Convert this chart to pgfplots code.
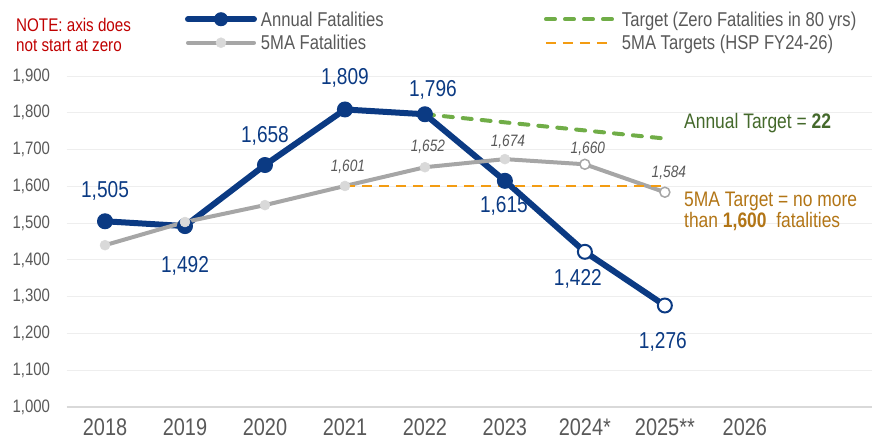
\documentclass[border=0pt]{standalone}
\usepackage{fontspec}
\setmainfont{Liberation Sans}[FakeStretch=0.83]
\usepackage{pgfplots}
\pgfplotsset{compat=1.18}
\usepackage{pgfplotstable}
\definecolor{navy}{HTML}{0B3A83}
\definecolor{greyline}{HTML}{A6A6A6}
\definecolor{markgrey}{HTML}{D9D9D9}
\definecolor{tgreen}{HTML}{70AD47}
\definecolor{torange}{HTML}{F39C12}
\definecolor{textgrey}{HTML}{595959}
\definecolor{notered}{HTML}{C00000}
\definecolor{anngreen}{HTML}{44692B}
\definecolor{annbrown}{HTML}{B27516}
\definecolor{gridc}{HTML}{EEEEEE}
\definecolor{axisc}{HTML}{D9D9D9}

\pgfplotstableread{
x y
0 1505
1 1492
2 1658
3 1809
4 1796
5 1615
6 1422
7 1276
}\annualtab

\pgfplotstableread{
x y
0 1440
1 1503
2 1549
3 1601
4 1652
5 1674
6 1660
7 1584
}\mtab

\pgfplotstableread{
x y
4 1796
5 1774
6 1752
7 1730
}\targettab

\pgfplotstableread{
x y
3 1600
4 1600
5 1600
6 1600
7 1600
}\fmatab

\begin{document}
\begin{tikzpicture}
\useasboundingbox (0,0) rectangle (872pt,440pt);
\begin{axis}[
  at={(66.7pt,33pt)}, anchor=south west,
  scale only axis, width=805.3pt, height=331pt,
  xmin=-0.479, xmax=9.59, ymin=1000, ymax=1900,
  xtick={0,...,8},
  xticklabels={2018,2019,2020,2021,2022,2023,2024*,2025**,2026},
  ytick={1000,1100,...,1900},
  ymajorgrids, grid style={draw=gridc, line width=1pt},
  extra y ticks={1000}, extra y tick labels={},
  extra y tick style={grid style={draw=axisc, line width=1.5pt}},
  axis line style={draw=none}, major tick length=0pt,
  /pgf/number format/1000 sep={,},
  /pgf/number format/assume math mode=true,
  tick label style={text=textgrey},
  y tick label style={font=\fontsize{18}{20}\selectfont, inner sep=0pt, xshift=-16.5pt},
  x tick label style={font=\fontsize{24}{26}\selectfont, inner sep=0pt, text depth=0pt, anchor=north, yshift=-12pt},
  clip=false,
  legend image code/.code={\draw[mark repeat=2,mark phase=2,#1] plot coordinates {(0pt,0pt) (33pt,0pt) (66pt,0pt)};},
  legend style={at={(0.1469,1.1934)}, anchor=north west, draw=none, fill=none,
    inner sep=0pt, outer sep=0pt, row sep=9pt,
    font=\fontsize{20}{22}\selectfont, text=textgrey,
    nodes={inner sep=0pt, text depth=0pt}},
  legend columns=2, legend cell align=left,
]
% Annual fatalities
\addplot[navy, line width=6pt, line join=round, line cap=round, mark=*,
  mark indices={1,2,3,4,5,6}, mark size=7.5pt,
  mark options={solid, line width=1pt, fill=navy}, forget plot] table {\annualtab};
\addplot[only marks, mark=*, mark indices={7,8}, mark size=7pt,
  mark options={draw=navy, fill=white, line width=2pt}, forget plot] table {\annualtab};
% 5MA
\addplot[greyline, line width=4pt, line join=round, line cap=round, mark=*,
  mark indices={1,2,3,4,5,6}, mark size=5pt,
  mark options={solid, draw=markgrey, fill=markgrey, line width=0.5pt}, forget plot] table {\mtab};
\addplot[only marks, mark=*, mark indices={7,8}, mark size=5pt,
  mark options={draw=greyline, fill=white, line width=1.5pt}, forget plot] table {\mtab};
% targets
\addplot[tgreen, line width=4pt, line cap=round, dash pattern=on 9pt off 10pt, forget plot] table {\targettab};
\addplot[torange, line width=2pt, dash pattern=on 10pt off 7pt, forget plot] table {\fmatab};

% legend
\addlegendimage{navy, line width=6pt, line cap=round, mark=*, mark size=6.5pt, mark options={solid, line width=1pt, fill=navy}}
\addlegendentry{\hspace*{4pt}\makebox[283pt][l]{Annual Fatalities}}
\addlegendimage{tgreen, line width=4pt, line cap=round, dash pattern=on 9pt off 10pt}
\addlegendentry{\hspace*{8pt}Target (Zero Fatalities in 80 yrs)}
\addlegendimage{greyline, line width=4pt, line cap=round, mark=*, mark size=5pt, mark options={solid, draw=markgrey, fill=markgrey, line width=0.5pt}}
\addlegendentry{\hspace*{4pt}\makebox[283pt][l]{5MA Fatalities}}
\addlegendimage{torange, line width=2pt, dash pattern=on 10pt off 7pt}
\addlegendentry{\hspace*{8pt}5MA Targets (HSP FY24-26)}

% annual labels
\tikzset{alab/.style={font=\fontsize{23}{26}\selectfont, text=navy, inner sep=0pt, text depth=0pt, anchor=center},
         mlab/.style={font=\fontsize{16.5}{18}\selectfont\itshape, text=textgrey, inner sep=0pt, text depth=0pt, anchor=center}}
\node[alab, yshift=32pt] at (axis cs:0,1505) {1,505};
\node[alab, yshift=-38pt] at (axis cs:1,1492) {1,492};
\node[alab, yshift=31pt] at (axis cs:2,1658) {1,658};
\node[alab, yshift=33.5pt] at (axis cs:3,1809) {1,809};
\node[alab, xshift=8pt, yshift=25.5pt] at (axis cs:4,1796) {1,796};
\node[alab, xshift=-1pt, yshift=-24pt] at (axis cs:5,1615) {1,615};
\node[alab, xshift=-7pt, yshift=-26pt] at (axis cs:6,1422) {1,422};
\node[alab, xshift=-2pt, yshift=-35pt] at (axis cs:7,1276) {1,276};
% 5MA labels
\node[mlab, xshift=3pt, yshift=20pt] at (axis cs:3,1601) {1,601};
\node[mlab, xshift=3pt, yshift=21pt] at (axis cs:4,1652) {1,652};
\node[mlab, xshift=3pt, yshift=18pt] at (axis cs:5,1674) {1,674};
\node[mlab, xshift=3pt, yshift=17pt] at (axis cs:6,1660) {1,660};
\node[mlab, xshift=4pt, yshift=20pt] at (axis cs:7,1584) {1,584};
\end{axis}
% notes and annotations
\node[anchor=west, inner sep=0pt, text depth=0pt, text=notered, font=\fontsize{18.3}{20}\selectfont] at (16pt,415pt) {NOTE: axis does};
\node[anchor=west, inner sep=0pt, text depth=0pt, text=notered, font=\fontsize{18.3}{20}\selectfont] at (16pt,394.5pt) {not start at zero};
\node[anchor=west, inner sep=0pt, text depth=0pt, text=anngreen, font=\fontsize{21}{24}\selectfont] at (684pt,319pt) {Annual Target = \textbf{22}};
\node[anchor=west, inner sep=0pt, text depth=0pt, text=annbrown, font=\fontsize{21}{24}\selectfont] at (684pt,240.5pt) {5MA Target = no more};
\node[anchor=west, inner sep=0pt, text depth=0pt, text=annbrown, font=\fontsize{21}{24}\selectfont] at (684pt,220pt) {than \textbf{1,600}\ \ fatalities};
\end{tikzpicture}
\end{document}
